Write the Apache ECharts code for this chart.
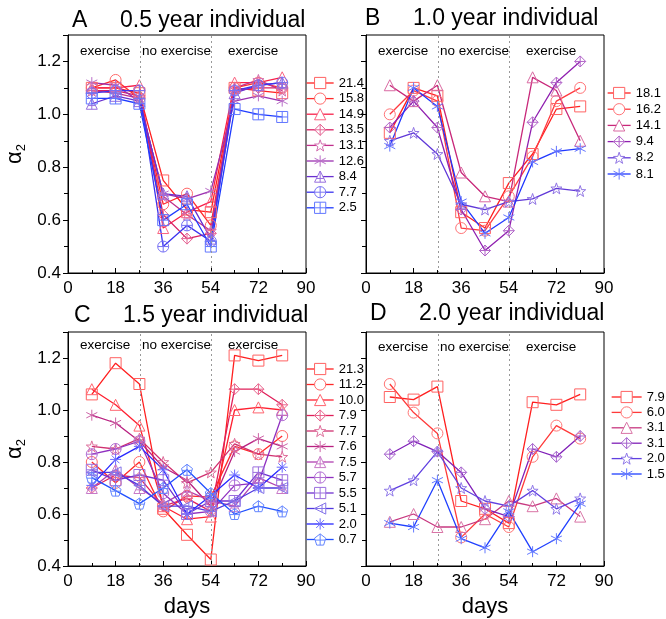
<!DOCTYPE html>
<html><head><meta charset="utf-8">
<script src="https://cdn.jsdelivr.net/npm/echarts@6/dist/echarts.min.js"></script>
<style>html,body{margin:0;padding:0;background:#fff}#c{width:666px;height:619px}</style>
</head><body><div id="c"></div>
<script>
// ---------- data ----------
const days = [9, 18, 27, 36, 45, 54, 63, 72, 81];
const phaseLines = [27.5, 54];
const phaseLabels = ['exercise', 'no exercise', 'exercise'];
const panelLetters = ['A', 'B', 'C', 'D'];
const panelTitles = ['0.5 year individual', '1.0 year individual', '1.5 year individual', '2.0 year individual'];

const labelsA = ['21.4', '15.8', '14.9', '13.5', '13.1', '12.6', '8.4', '7.7', '2.5'];
const valuesA = [
  [1.10, 1.10, 1.08, 0.75, 0.64, 0.63, 1.10, 1.09, 1.08],
  [1.10, 1.13, 1.06, 0.66, 0.70, 0.58, 1.10, 1.12, 1.10],
  [1.10, 1.10, 1.11, 0.57, 0.63, 0.67, 1.12, 1.12, 1.14],
  [1.09, 1.09, 1.07, 0.62, 0.53, 0.55, 1.09, 1.10, 1.10],
  [1.09, 1.08, 1.06, 0.69, 0.62, 0.56, 1.10, 1.13, 1.09],
  [1.12, 1.11, 1.05, 0.70, 0.68, 0.71, 1.05, 1.07, 1.05],
  [1.04, 1.07, 1.05, 0.70, 0.69, 0.53, 1.08, 1.11, 1.12],
  [1.08, 1.09, 1.09, 0.50, 0.58, 0.52, 1.09, 1.11, 1.12],
  [1.06, 1.06, 1.04, 0.60, 0.66, 0.50, 1.02, 1.00, 0.99]
];

const labelsB = ['18.1', '16.2', '14.1', '9.4', '8.2', '8.1'];
const valuesB = [
  [0.93, 1.10, 1.07, 0.63, 0.57, 0.74, 0.85, 1.02, 1.03],
  [1.00, 1.09, 1.05, 0.57, 0.56, 0.69, 0.84, 1.05, 1.10],
  [1.11, 1.05, 1.11, 0.78, 0.69, 0.67, 1.14, 1.09, 0.90],
  [0.95, 1.05, 0.95, 0.64, 0.485, 0.56, 0.97, 1.12, 1.20],
  [0.90, 0.93, 0.85, 0.66, 0.64, 0.67, 0.68, 0.72, 0.71],
  [0.88, 1.10, 1.03, 0.67, 0.55, 0.61, 0.82, 0.86, 0.87]
];

const labelsC = ['21.3', '11.2', '10.0', '7.9', '7.7', '7.6', '7.5', '5.7', '5.5', '5.1', '2.0', '0.7'];
const valuesC = [
  [1.06, 1.18, 1.10, 0.62, 0.52, 0.425, 1.21, 1.19, 1.21],
  [0.80, 0.72, 0.80, 0.61, 0.67, 0.665, 0.86, 0.83, 0.90],
  [1.08, 1.02, 0.94, 0.63, 0.58, 0.59, 1.00, 1.01, 1.00],
  [0.70, 0.75, 0.74, 0.63, 0.66, 0.61, 1.08, 1.08, 1.02],
  [0.86, 0.85, 0.89, 0.80, 0.72, 0.76, 0.87, 0.83, 0.82],
  [0.98, 0.95, 0.88, 0.78, 0.73, 0.63, 0.84, 0.89, 0.86],
  [0.70, 0.77, 0.70, 0.64, 0.69, 0.65, 0.63, 0.74, 0.70],
  [0.83, 0.85, 0.88, 0.68, 0.60, 0.61, 0.71, 0.72, 0.98],
  [0.77, 0.73, 0.75, 0.73, 0.60, 0.65, 0.65, 0.76, 0.73],
  [0.76, 0.76, 0.71, 0.63, 0.63, 0.61, 0.65, 0.70, 0.70],
  [0.71, 0.81, 0.86, 0.77, 0.60, 0.67, 0.75, 0.70, 0.78],
  [0.74, 0.69, 0.64, 0.70, 0.77, 0.68, 0.60, 0.63, 0.61]
];

const labelsD = ['7.9', '6.0', '3.1', '3.1', '2.0', '1.5'];
const valuesD = [
  [1.05, 1.04, 1.09, 0.65, 0.62, 0.565, 1.03, 1.02, 1.06],
  [1.10, 0.99, 0.91, 0.51, 0.60, 0.55, 0.82, 0.94, 0.89],
  [0.57, 0.60, 0.55, 0.55, 0.58, 0.65, 0.63, 0.66, 0.59],
  [0.83, 0.88, 0.84, 0.76, 0.62, 0.59, 0.85, 0.82, 0.90],
  [0.69, 0.73, 0.84, 0.70, 0.65, 0.63, 0.69, 0.62, 0.66],
  [0.565, 0.55, 0.73, 0.505, 0.47, 0.61, 0.455, 0.505, 0.64]
];

// ---------- styles ----------
const SYM = {
  sq: 'rect',
  ci: 'circle',
  tri: 'triangle',
  diaX: 'path://M10,0L20,10L10,20L0,10Z M10,0L10,20 M0,10L20,10',
  star: 'path://M10,0L12.35,6.76L19.51,6.91L13.8,11.24L15.88,18.09L10,14L4.12,18.09L6.2,11.24L0.49,6.91L7.65,6.76Z',
  ast: 'path://M10,0L10,20 M1.34,5L18.66,15 M1.34,15L18.66,5',
  triX: 'path://M10,0L20,18L0,18Z M10,0L10,18 M3.33,12L16.67,12',
  ciX: 'path://M0,10A10,10,0,1,1,20,10A10,10,0,1,1,0,10Z M10,0L10,20 M0,10L20,10',
  sqX: 'path://M0,0L20,0L20,20L0,20Z M10,0L10,20 M0,10L20,10',
  ltriX: 'path://M0,10L18,0L18,20Z M0,10L18,10 M12,3.33L12,16.67',
  ast8: 'path://M10,0L10,20 M0,10L20,10 M2.93,2.93L17.07,17.07 M2.93,17.07L17.07,2.93',
  pentX: 'path://M10,0L19.51,6.91L15.88,18.09L4.12,18.09L0.49,6.91Z M10,0L10,18.09 M1.5,10L18.5,10'
};
const symA = ['sq','ci','tri','diaX','star','ast','triX','ciX','sqX'];
const symB = ['sq','ci','tri','diaX','star','ast'];
const symC = ['sq','ci','tri','diaX','star','ast','triX','ciX','sqX','ltriX','ast8','pentX'];
const symD = ['sq','ci','tri','diaX','star','ast'];

const colA = ['#ff1f1f','#ff2a2a','#f8204a','#d81f63','#c0308c','#9b30b0','#6a30d0','#3c34ef','#1f3cff'];
const colB = ['#ff2020','#ff3a40','#c8287a','#9020b0','#6038d8','#2038ff'];
const colC = ['#ff1f1f','#ff2a2a','#ff2030','#e0205a','#d03070','#b82080','#b040b0','#9030c0','#7030d0','#5038e0','#2828ff','#2050ff'];
const colD = ['#ff1f1f','#ff3a3a','#c83880','#8020b8','#6040e0','#2040ff'];

function lighten(hex, t) {
  const n = parseInt(hex.slice(1), 16);
  const r = (n >> 16) & 255, g = (n >> 8) & 255, b = n & 255;
  const f = v => Math.round(v + (255 - v) * t);
  return 'rgb(' + f(r) + ',' + f(g) + ',' + f(b) + ')';
}

const FONT = 'Liberation Sans, Arial, sans-serif';
const panels = [
  { labels: labelsA, values: valuesA, syms: symA, cols: colA,
    grid: {left: 68, top: 35, width: 238, height: 238},
    legend: {left: 306, top: 76, itemWidth: 27, itemGap: 1.6},
    yLabels: true, xName: false, titleTop: 9, letterLeft: 72, titleLeft: 120, annY: 1.238 },
  { labels: labelsB, values: valuesB, syms: symB, cols: colB,
    grid: {left: 366, top: 35, width: 238, height: 238},
    legend: {left: 607, top: 86, itemWidth: 23, itemGap: 2.2},
    yLabels: false, xName: false, titleTop: 7, letterLeft: 365, titleLeft: 413, annY: 1.238 },
  { labels: labelsC, values: valuesC, syms: symC, cols: colC,
    grid: {left: 68, top: 332, width: 238, height: 238},
    legend: {left: 306, top: 362, itemWidth: 27, itemGap: 1.5},
    yLabels: true, xName: true, titleTop: 304, letterLeft: 74, titleLeft: 123, annY: 1.25 },
  { labels: labelsD, values: valuesD, syms: symD, cols: colD,
    grid: {left: 366, top: 332, width: 238, height: 238},
    legend: {left: 611, top: 390, itemWidth: 30, itemGap: 1.4},
    yLabels: false, xName: true, titleTop: 302, letterLeft: 370, titleLeft: 419, annY: 1.24 }
];
const annX = [14, 41, 70];

const option = {
  animation: false,
  backgroundColor: '#fff',
  textStyle: {fontFamily: FONT, color: '#000'},
  title: [], grid: [], xAxis: [], yAxis: [], legend: [], series: []
};

panels.forEach((p, pi) => {
  option.title.push({text: panelLetters[pi], left: p.letterLeft, top: p.titleTop, padding: 0,
    textStyle: {fontSize: 23, fontWeight: 'normal', color: '#000', fontFamily: FONT}});
  option.title.push({text: panelTitles[pi], left: p.titleLeft, top: p.titleTop, padding: 0,
    textStyle: {fontSize: 23, fontWeight: 'normal', color: '#000', fontFamily: FONT}});
  option.grid.push(Object.assign({show: true, borderColor: '#000', borderWidth: 1, containLabel: false}, p.grid));
  option.xAxis.push({
    type: 'value', gridIndex: pi, min: 0, max: 90, interval: 18,
    name: p.xName ? 'days' : '', nameLocation: 'middle', nameGap: 30,
    nameTextStyle: {fontSize: 22, color: '#000', fontFamily: FONT},
    axisLine: {show: true, onZero: false, lineStyle: {color: '#000', width: 1}},
    axisTick: {show: true, inside: true, length: 5, lineStyle: {color: '#000'}},
    minorTick: {show: true, splitNumber: 2, length: 3, lineStyle: {color: '#000'}},
    axisLabel: {fontSize: 17, color: '#000', margin: 7, fontFamily: FONT},
    splitLine: {show: false}
  });
  option.yAxis.push({
    type: 'value', gridIndex: pi, min: 0.4, max: 1.3, interval: 0.2,
    name: p.yLabels ? '{a|α}{s|2}' : '', nameLocation: 'middle', nameRotate: 90, nameGap: 40,
    nameTextStyle: {rich: {
      a: {fontSize: 22, color: '#000', fontFamily: FONT, lineHeight: 26, verticalAlign: 'middle'},
      s: {fontSize: 13, color: '#000', fontFamily: FONT, lineHeight: 26, verticalAlign: 'bottom', padding: [10, 0, 0, 0]}
    }},
    axisLine: {show: true, onZero: false, lineStyle: {color: '#000', width: 1}},
    axisTick: {show: true, inside: false, length: 5, lineStyle: {color: '#000'}},
    minorTick: {show: true, splitNumber: 2, length: 4, lineStyle: {color: '#000'}},
    axisLabel: {show: p.yLabels, fontSize: 17, color: '#000', margin: 7, showMaxLabel: false,
      formatter: v => v.toFixed(1), fontFamily: FONT},
    splitLine: {show: false}
  });
  const names = p.labels.map((l, i) => panelLetters[pi] + i + '|' + l);
  option.legend.push({
    orient: 'vertical', left: p.legend.left, top: p.legend.top, padding: 0,
    itemWidth: p.legend.itemWidth, itemHeight: 14, itemGap: p.legend.itemGap,
    selectedMode: false, data: names,
    itemStyle: {color: '#fff', borderWidth: 1},
    lineStyle: {width: 1.3},
    formatter: n => n.split('|')[1],
    textStyle: {fontSize: 13, color: '#000', lineHeight: 14, fontFamily: FONT}
  });
  p.values.forEach((vals, si) => {
    const c = p.cols[si];
    const s = {
      type: 'line', name: names[si], xAxisIndex: pi, yAxisIndex: pi,
      data: days.map((d, k) => [d, vals[k]]),
      symbol: SYM[p.syms[si]], symbolSize: 11, showAllSymbol: true,
      lineStyle: {color: c, width: 1.3},
      itemStyle: {color: 'rgba(255,255,255,0)', borderColor: lighten(c, 0.3), borderWidth: 1},
      emphasis: {disabled: true}, silent: true
    };
    if (si === 0) {
      s.markLine = {
        silent: true, symbol: 'none', animation: false,
        label: {show: false},
        lineStyle: {color: '#999', type: [2, 3], width: 1},
        data: phaseLines.map(x => ({xAxis: x}))
      };
      s.markPoint = {
        silent: true, symbol: 'rect', symbolSize: 1, animation: false,
        itemStyle: {color: 'rgba(0,0,0,0)'},
        label: {show: true, position: 'inside', formatter: '{b}', color: '#000', fontSize: 13.5, fontFamily: FONT},
        data: phaseLabels.map((t, k) => ({name: t, coord: [annX[k], p.annY]}))
      };
    }
    option.series.push(s);
  });
});

const chart = echarts.init(document.getElementById('c'), null, {renderer: 'canvas'});
chart.setOption(option);
</script>
</body></html>
